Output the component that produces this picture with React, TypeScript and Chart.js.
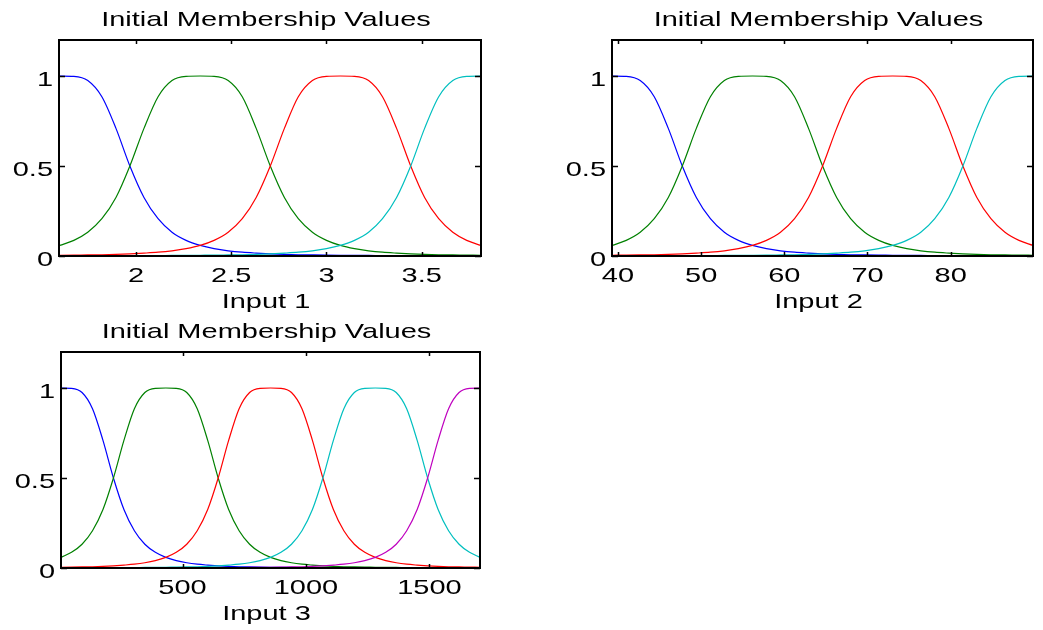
import React, { useEffect, useRef } from "react";
import { Chart, registerables } from "chart.js";

Chart.register(...registerables);

const WIDTH = 1043;
const HEIGHT = 630;

// ---- Input 1 ----
const input1X = [
  1.6, 1.674, 1.747, 1.821, 1.895, 1.968, 2.042, 2.116, 2.189, 2.263, 2.337,
  2.41, 2.484, 2.558, 2.631, 2.705, 2.779, 2.852, 2.926, 3.0, 3.073, 3.147,
  3.221, 3.294, 3.368, 3.442, 3.515, 3.589, 3.663, 3.736, 3.81,
];
const input1Mf1 = [
  1, 0.998, 0.975, 0.885, 0.709, 0.5, 0.325, 0.207, 0.132, 0.087, 0.059, 0.041,
  0.029, 0.021, 0.016, 0.012, 0.009, 0.007, 0.006, 0.005, 0.004, 0.003, 0.003,
  0.002, 0.002, 0.002, 0.001, 0.001, 0.001, 0.001, 0.001,
];
const input1Mf2 = [
  0.059, 0.087, 0.132, 0.207, 0.325, 0.5, 0.709, 0.885, 0.975, 0.998, 1, 0.998,
  0.975, 0.885, 0.709, 0.5, 0.325, 0.207, 0.132, 0.087, 0.059, 0.041, 0.029,
  0.021, 0.016, 0.012, 0.009, 0.007, 0.006, 0.005, 0.004,
];
const input1Mf3 = [
  0.004, 0.005, 0.006, 0.007, 0.009, 0.012, 0.016, 0.021, 0.029, 0.041, 0.059,
  0.087, 0.132, 0.207, 0.325, 0.5, 0.709, 0.885, 0.975, 0.998, 1, 0.998, 0.975,
  0.885, 0.709, 0.5, 0.325, 0.207, 0.132, 0.087, 0.059,
];
const input1Mf4 = [
  0.001, 0.001, 0.001, 0.001, 0.001, 0.002, 0.002, 0.002, 0.003, 0.003, 0.004,
  0.005, 0.006, 0.007, 0.009, 0.012, 0.016, 0.021, 0.029, 0.041, 0.059, 0.087,
  0.132, 0.207, 0.325, 0.5, 0.709, 0.885, 0.975, 0.998, 1,
];
const input1Ticks = [2, 2.5, 3, 3.5];

// ---- Input 2 ----
const input2X = [
  39.3, 40.99, 42.67, 44.36, 46.05, 47.73, 49.42, 51.11, 52.79, 54.48, 56.17,
  57.85, 59.54, 61.23, 62.91, 64.6, 66.29, 67.97, 69.66, 71.35, 73.03, 74.72,
  76.41, 78.09, 79.78, 81.47, 83.15, 84.84, 86.53, 88.21, 89.9,
];
const input2Mf1 = [
  1, 0.998, 0.975, 0.885, 0.709, 0.5, 0.325, 0.207, 0.132, 0.087, 0.059, 0.041,
  0.029, 0.021, 0.016, 0.012, 0.009, 0.007, 0.006, 0.005, 0.004, 0.003, 0.003,
  0.002, 0.002, 0.002, 0.001, 0.001, 0.001, 0.001, 0.001,
];
const input2Mf2 = [
  0.059, 0.087, 0.132, 0.207, 0.325, 0.5, 0.709, 0.885, 0.975, 0.998, 1, 0.998,
  0.975, 0.885, 0.709, 0.5, 0.325, 0.207, 0.132, 0.087, 0.059, 0.041, 0.029,
  0.021, 0.016, 0.012, 0.009, 0.007, 0.006, 0.005, 0.004,
];
const input2Mf3 = [
  0.004, 0.005, 0.006, 0.007, 0.009, 0.012, 0.016, 0.021, 0.029, 0.041, 0.059,
  0.087, 0.132, 0.207, 0.325, 0.5, 0.709, 0.885, 0.975, 0.998, 1, 0.998, 0.975,
  0.885, 0.709, 0.5, 0.325, 0.207, 0.132, 0.087, 0.059,
];
const input2Mf4 = [
  0.001, 0.001, 0.001, 0.001, 0.001, 0.002, 0.002, 0.002, 0.003, 0.003, 0.004,
  0.005, 0.006, 0.007, 0.009, 0.012, 0.016, 0.021, 0.029, 0.041, 0.059, 0.087,
  0.132, 0.207, 0.325, 0.5, 0.709, 0.885, 0.975, 0.998, 1,
];
const input2Ticks = [40, 50, 60, 70, 80];

// ---- Input 3 ----
const input3X = [
  8, 50.4, 92.9, 135.3, 177.7, 220.1, 262.6, 305.0, 347.4, 389.8, 432.3, 474.7,
  517.1, 559.5, 602.0, 644.4, 686.8, 729.2, 771.7, 814.1, 856.5, 898.9, 941.4,
  983.8, 1026.2, 1068.6, 1111.1, 1153.5, 1195.9, 1238.3, 1280.8, 1323.2, 1365.6,
  1408.0, 1450.5, 1492.9, 1535.3, 1577.7, 1620.2, 1662.6, 1705,
];
const input3Mf1 = [
  1, 0.998, 0.975, 0.885, 0.709, 0.5, 0.325, 0.207, 0.132, 0.087, 0.059, 0.041,
  0.029, 0.021, 0.016, 0.012, 0.009, 0.007, 0.006, 0.005, 0.004, 0.003, 0.003,
  0.002, 0.002, 0.002, 0.001, 0.001, 0.001, 0.001, 0.001, 0, 0, 0, 0, 0, 0, 0,
  0, 0, 0,
];
const input3Mf2 = [
  0.059, 0.087, 0.132, 0.207, 0.325, 0.5, 0.709, 0.885, 0.975, 0.998, 1, 0.998,
  0.975, 0.885, 0.709, 0.5, 0.325, 0.207, 0.132, 0.087, 0.059, 0.041, 0.029,
  0.021, 0.016, 0.012, 0.009, 0.007, 0.006, 0.005, 0.004, 0.003, 0.003, 0.002,
  0.002, 0.002, 0.001, 0.001, 0.001, 0.001, 0.001,
];
const input3Mf3 = [
  0.004, 0.005, 0.006, 0.007, 0.009, 0.012, 0.016, 0.021, 0.029, 0.041, 0.059,
  0.087, 0.132, 0.207, 0.325, 0.5, 0.709, 0.885, 0.975, 0.998, 1, 0.998, 0.975,
  0.885, 0.709, 0.5, 0.325, 0.207, 0.132, 0.087, 0.059, 0.041, 0.029, 0.021,
  0.016, 0.012, 0.009, 0.007, 0.006, 0.005, 0.004,
];
const input3Mf4 = [
  0.001, 0.001, 0.001, 0.001, 0.001, 0.002, 0.002, 0.002, 0.003, 0.003, 0.004,
  0.005, 0.006, 0.007, 0.009, 0.012, 0.016, 0.021, 0.029, 0.041, 0.059, 0.087,
  0.132, 0.207, 0.325, 0.5, 0.709, 0.885, 0.975, 0.998, 1, 0.998, 0.975, 0.885,
  0.709, 0.5, 0.325, 0.207, 0.132, 0.087, 0.059,
];
const input3Mf5 = [
  0, 0, 0, 0, 0, 0, 0, 0, 0, 0, 0.001, 0.001, 0.001, 0.001, 0.001, 0.002, 0.002,
  0.002, 0.003, 0.003, 0.004, 0.005, 0.006, 0.007, 0.009, 0.012, 0.016, 0.021,
  0.029, 0.041, 0.059, 0.087, 0.132, 0.207, 0.325, 0.5, 0.709, 0.885, 0.975,
  0.998, 1,
];
const input3Ticks = [500, 1000, 1500];

const yTicks = [0, 0.5, 1];
const panelTitle = "Initial Membership Values";
const mfColors = ["#0000ff", "#008000", "#ff0000", "#00bfbf", "#bf00bf"];

type Box = { left: number; top: number; right: number; bottom: number };
type Panel = {
  x: number[];
  series: number[][];
  xMin: number;
  xMax: number;
  xTicks: number[];
  xLabel: string;
  box: Box;
};

const panels: Panel[] = [
  {
    x: input1X,
    series: [input1Mf1, input1Mf2, input1Mf3, input1Mf4],
    xMin: 1.596,
    xMax: 3.811,
    xTicks: input1Ticks,
    xLabel: "Input 1",
    box: { left: 59, top: 40, right: 481, bottom: 256 },
  },
  {
    x: input2X,
    series: [input2Mf1, input2Mf2, input2Mf3, input2Mf4],
    xMin: 39.28,
    xMax: 89.9,
    xTicks: input2Ticks,
    xLabel: "Input 2",
    box: { left: 612, top: 40, right: 1033, bottom: 256 },
  },
  {
    x: input3X,
    series: [input3Mf1, input3Mf2, input3Mf3, input3Mf4, input3Mf5],
    xMin: 7.7,
    xMax: 1705,
    xTicks: input3Ticks,
    xLabel: "Input 3",
    box: { left: 61, top: 352, right: 480, bottom: 568 },
  },
];

// Text in this figure is set wide, so glyphs are stretched horizontally.
const TEXT_STRETCH = 1.38;
const FONT = '21px "Liberation Sans", Arial, Helvetica, sans-serif';

function drawWideText(
  ctx: CanvasRenderingContext2D,
  text: string,
  x: number,
  y: number,
  align: CanvasTextAlign
) {
  ctx.save();
  ctx.translate(x, y);
  ctx.scale(TEXT_STRETCH, 1);
  ctx.textAlign = align;
  ctx.textBaseline = "alphabetic";
  ctx.fillText(text, 0, 0);
  ctx.restore();
}

const axesFrame = {
  id: "axesFrame",
  afterDatasetsDraw(chart: any, _args: any, opts: any) {
    const { ctx, chartArea: a, scales } = chart;
    const xs = scales.x;
    const ys = scales.y;
    ctx.save();

    // box
    ctx.strokeStyle = "#000";
    ctx.lineWidth = 2;
    ctx.strokeRect(a.left, a.top, a.right - a.left, a.bottom - a.top);

    // inward tick marks on all four sides
    ctx.lineWidth = 1.5;
    ctx.beginPath();
    for (const v of opts.xTicks as number[]) {
      const px = Math.round(xs.getPixelForValue(v)) + 0.5;
      ctx.moveTo(px, a.bottom);
      ctx.lineTo(px, a.bottom - 4);
      ctx.moveTo(px, a.top);
      ctx.lineTo(px, a.top + 4);
    }
    for (const v of yTicks) {
      const py = Math.round(ys.getPixelForValue(v)) + 0.5;
      ctx.moveTo(a.left, py);
      ctx.lineTo(a.left + 6, py);
      ctx.moveTo(a.right, py);
      ctx.lineTo(a.right - 6, py);
    }
    ctx.stroke();

    // labels
    ctx.fillStyle = "#000";
    ctx.font = FONT;
    const cx = (a.left + a.right) / 2 - 4;
    drawWideText(ctx, panelTitle, cx, a.top - 14.5, "center");
    for (const v of opts.xTicks as number[]) {
      drawWideText(ctx, String(v), xs.getPixelForValue(v), a.bottom + 25.5, "center");
    }
    for (const v of yTicks) {
      drawWideText(ctx, String(v), a.left - 6, ys.getPixelForValue(v) + 10, "right");
    }
    drawWideText(ctx, opts.xLabel, cx, a.bottom + 52, "center");

    ctx.restore();
  },
};

function PanelChart({ panel }: { panel: Panel }) {
  const ref = useRef<HTMLCanvasElement | null>(null);

  useEffect(() => {
    if (!ref.current) return;
    const n = panel.series.length;
    const chart = new Chart(ref.current, {
      type: "line",
      data: {
        datasets: panel.series.map((values, k) => ({
          label: `mf${k + 1}`,
          data: panel.x.map((xv, i) => ({ x: xv, y: values[i] })),
          borderColor: mfColors[k],
          borderWidth: 1.2,
          pointRadius: 0,
          cubicInterpolationMode: "monotone" as const,
          fill: false,
          order: n - k,
        })),
      },
      options: {
        animation: false,
        responsive: false,
        devicePixelRatio: 1,
        events: [],
        layout: {
          padding: {
            left: panel.box.left,
            top: panel.box.top,
            right: WIDTH - panel.box.right,
            bottom: HEIGHT - panel.box.bottom,
          },
        },
        plugins: {
          legend: { display: false },
          tooltip: { enabled: false },
          title: { display: false },
          axesFrame: { xTicks: panel.xTicks, xLabel: panel.xLabel },
        } as any,
        scales: {
          x: { type: "linear", min: panel.xMin, max: panel.xMax, display: false },
          y: { type: "linear", min: 0, max: 1.2, display: false },
        },
      },
      plugins: [axesFrame],
    });
    return () => chart.destroy();
  }, [panel]);

  return (
    <canvas
      ref={ref}
      width={WIDTH}
      height={HEIGHT}
      style={{ position: "absolute", left: 0, top: 0 }}
    />
  );
}

export default function App() {
  return (
    <div
      style={{
        position: "absolute",
        left: 0,
        top: 0,
        width: WIDTH,
        height: HEIGHT,
        background: "#fff",
      }}
    >
      {panels.map((p) => (
        <PanelChart key={p.xLabel} panel={p} />
      ))}
    </div>
  );
}
